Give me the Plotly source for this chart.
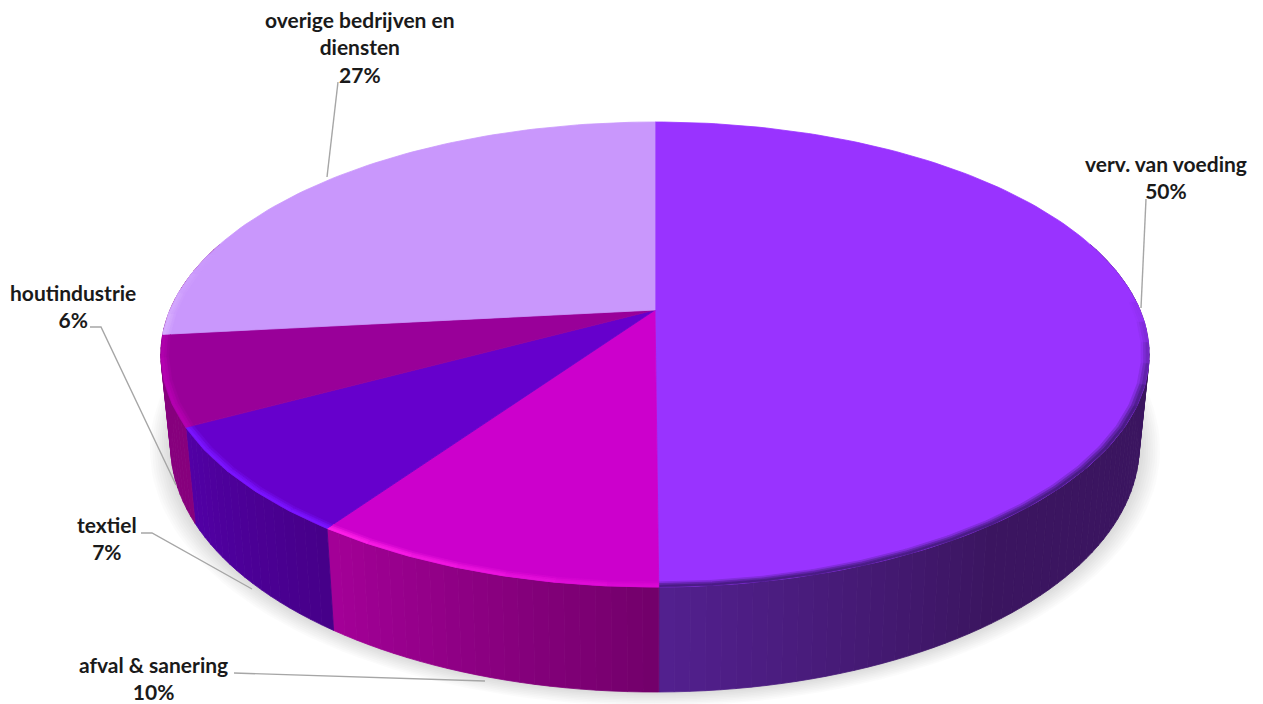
import numpy as np
import plotly.graph_objects as go

# ---- data (clockwise from 12 o'clock) ----
categories = ["verv. van voeding", "afval & sanering", "textiel", "houtindustrie",
              "overige bedrijven en<br>diensten"]
values = [49.9, 9.75, 7.45, 6.2, 26.7]

# ---- style ----
top_colors = ["#9933FF", "#CC00CC", "#6600CC", "#990099", "#C997FC"]
wall_near = ["#53208F", "#72006A", "#460088", "#87007D", "#87007D"]   # colour at slice start
wall_far = ["#3B1560", "#A40098", "#5200A6", "#87007D", "#87007D"]   # colour at slice end
rim_colors = ["#4A1C86", "#FF20E8", "#7A14FF", "#B400B0", "#DDB8FF"]
label_pos = [(1166, 177), (153, 678), (107, 538), (73, 306), (360, 47)]
leaders = [
    [(1146, 199), (1141, 308)],
    [(234, 673), (485, 681)],
    [(141, 533), (152, 533), (252, 589)],
    [(90, 327), (101, 327), (176, 485)],
    [(338, 82), (327, 177)],
]
LEADER = "#A6A6A6"
FONT = "Lato"

# ---- projection of the tilted disc ----
CX, R, A, B, C = 655.0, 485.0, -164.65, 310.0, 0.1914


def top_xy(theta, r=1.0):
    u, v = r * np.sin(theta), r * np.cos(theta)
    d = 1 + C * v
    return CX + R * u / d, (A * v + B) / d


def bottom_xy(theta):
    x, y = top_xy(theta)
    return CX + (x - CX) * 0.98, y + 88 - 17 * np.cos(theta)


def hex2rgb(c):
    return np.array([int(c[i:i + 2], 16) for i in (1, 3, 5)], float)


def mix(c1, c2, t):
    m = hex2rgb(c1) * (1 - t) + hex2rgb(c2) * t
    return "rgb(%d,%d,%d)" % tuple(m.round())


fig = go.Figure()


def poly(xs, ys, color, seam=True):
    xs, ys = list(xs), list(ys)
    xs.append(xs[0])
    ys.append(ys[0])
    fig.add_trace(go.Scatter(
        x=xs, y=ys, mode="lines", fill="toself", fillcolor=color,
        line=dict(color=color if seam else "rgba(0,0,0,0)", width=0.8 if seam else 0),
        hoverinfo="skip", showlegend=False))


edges = np.cumsum([0] + values) / sum(values) * 2 * np.pi

# soft shadow under the disc
t_all = np.linspace(0, 2 * np.pi, 181)
bx, by = bottom_xy(t_all)
cy_b = (by.min() + by.max()) / 2
for i in range(1, 10):
    k = 1 + 0.0048 * (10 - i)
    poly(CX + (bx - CX) * k, cy_b + (by - cy_b) * k + 0.4 * (10 - i),
         "rgba(0,0,0,0.016)", seam=False)

# side wall, strip by strip
for s in range(len(values)):
    a0, a1 = edges[s], edges[s + 1]
    lo, hi = max(a0, np.radians(72)), min(a1, np.radians(288))
    if hi <= lo:
        continue
    n = max(2, int(np.degrees(hi - lo) / 1.5))
    ts = np.linspace(lo, hi, n + 1)
    for t0, t1 in zip(ts[:-1], ts[1:]):
        tm = (t0 + t1) / 2
        if s == 0:
            # purple wall: brightest at the front, constant dark beyond
            f = np.clip((a1 - tm) / np.radians(36), 0, 1)
        else:
            f = (tm - a0) / (a1 - a0)
        col = mix(wall_near[s], wall_far[s], f)
        xa, ya = top_xy(np.array([t0, t1]))
        xb, yb = bottom_xy(np.array([t1, t0]))
        poly(np.r_[xa, xb], np.r_[ya, yb], col)

# top faces
for s in range(len(values)):
    ts = np.linspace(edges[s], edges[s + 1], max(8, int(values[s] * 3)))
    x, y = top_xy(ts)
    poly(np.r_[CX, x], np.r_[B, y], top_colors[s])

# bevel along the front rim
px = 2.4 / R
rings = [(1 - 3 * px, 1 - 2 * px, 0.30), (1 - 2 * px, 1 - px, 0.70), (1 - px, 1.0, 1.0)]
for s in range(len(values)):
    a0, a1 = edges[s], edges[s + 1]
    lo, hi = max(a0, np.radians(88)), min(a1, np.radians(285))
    if hi <= lo:
        continue
    n = max(1, int(np.degrees(hi - lo) / 5))
    ts = np.linspace(lo, hi, n + 1)
    for t0, t1 in zip(ts[:-1], ts[1:]):
        tm = np.degrees((t0 + t1) / 2)
        if s == 0:
            gain = np.clip((tm - 88) / 25, 0, 1)
        else:
            gain = np.clip((tm - 170) / 45, 0.12, 1.0) * np.clip((285 - tm) / 30, 0, 1)
        for r0, r1, w in rings:
            seg = np.array([t0, t1])
            x0, y0 = top_xy(seg, r0)
            x1, y1 = top_xy(seg[::-1], r1)
            poly(np.r_[x0, x1], np.r_[y0, y1], mix(top_colors[s], rim_colors[s], w * gain))

# leader lines
for pts in leaders:
    fig.add_trace(go.Scatter(x=[p[0] for p in pts], y=[p[1] for p in pts], mode="lines",
                             line=dict(color=LEADER, width=1.4), hoverinfo="skip",
                             showlegend=False))

# labels
for name, val, (lx, ly) in zip(categories, values, label_pos):
    fig.add_annotation(x=lx, y=ly, text=f"<b>{name}<br>{val:.0f}%</b>", showarrow=False,
                       xanchor="center", yanchor="middle", align="center",
                       font=dict(family=FONT, size=21, color="#1A1A1A"))

fig.update_layout(
    width=1263, height=704, margin=dict(l=0, r=0, t=0, b=0),
    paper_bgcolor="white", plot_bgcolor="white", showlegend=False,
    xaxis=dict(range=[0, 1263], visible=False, fixedrange=True),
    yaxis=dict(range=[704, 0], visible=False, fixedrange=True),
)
fig.write_html("out.html", config=dict(displayModeBar=False),
               post_script="document.body.style.margin='0';")
